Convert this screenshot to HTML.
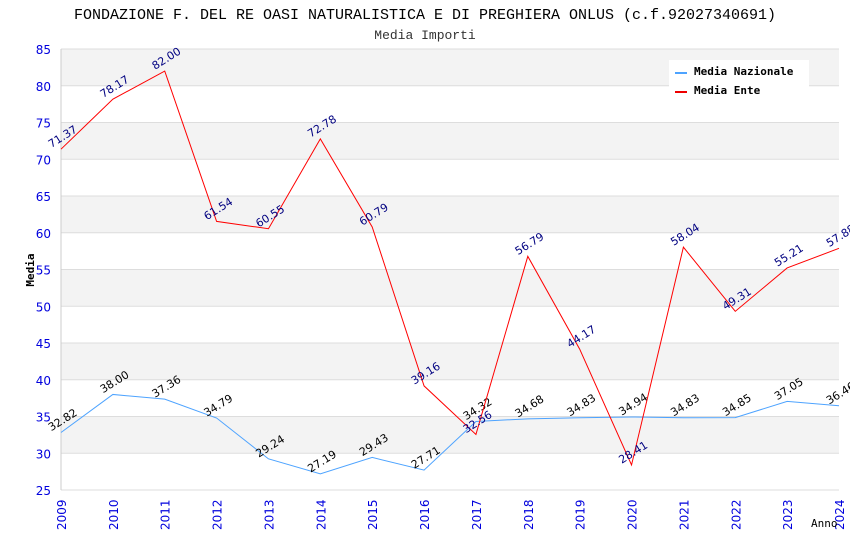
<!DOCTYPE html>
<html><head><meta charset="utf-8"><style>
body{margin:0;background:#fff}
svg{display:block;font-family:"DejaVu Sans","Liberation Sans",sans-serif}
</style></head><body>
<svg id="c" width="850" height="550">
<text x="425" y="19" text-anchor="middle" font-family="Liberation Mono,DejaVu Sans Mono,monospace" font-size="15" fill="#000">FONDAZIONE F. DEL RE OASI NATURALISTICA E DI PREGHIERA ONLUS (c.f.92027340691)</text>
<text x="425" y="39" text-anchor="middle" font-family="Liberation Mono,DejaVu Sans Mono,monospace" font-size="13" fill="#333">Media Importi</text>
<g id="grid"></g>
<g id="series"></g>
<g>
<rect x="669" y="60" width="140" height="42" fill="#fff"/>
<line x1="675" y1="73" x2="687" y2="73" stroke="#4da3ff" stroke-width="2"/>
<text x="694" y="75" font-family="DejaVu Sans Mono,Liberation Mono,monospace" font-size="11" font-weight="bold">Media Nazionale</text>
<line x1="675" y1="92" x2="687" y2="92" stroke="#e00" stroke-width="2"/>
<text x="694" y="94" font-family="DejaVu Sans Mono,Liberation Mono,monospace" font-size="11" font-weight="bold">Media Ente</text>
</g>
<text transform="translate(34,270) rotate(-90)" text-anchor="middle" font-family="DejaVu Sans Mono,Liberation Mono,monospace" font-size="11" font-weight="bold">Media</text>
<text x="811" y="527" font-family="DejaVu Sans Mono,Liberation Mono,monospace" font-size="11">Anno</text>
</svg>
<script>
const years=[2009,2010,2011,2012,2013,2014,2015,2016,2017,2018,2019,2020,2021,2022,2023,2024];
const nazionale=[32.82,38.00,37.36,34.79,29.24,27.19,29.43,27.71,34.32,34.68,34.83,34.94,34.83,34.85,37.05,36.46];
const ente=[71.37,78.17,82.00,61.54,60.55,72.78,60.79,39.16,32.56,56.79,44.17,28.41,58.04,49.31,55.21,57.88];
const yTicks=[25,30,35,40,45,50,55,60,65,70,75,80,85];
const NS='http://www.w3.org/2000/svg';
const X0=61,X1=839,Y0=490,Y1=49,ymin=25,ymax=85;
const xs=i=>X0+(X1-X0)*i/(years.length-1);
const ys=v=>Y0-(v-ymin)/(ymax-ymin)*(Y0-Y1);
function mk(t,a,p){const e=document.createElementNS(NS,t);for(const k in a)e.setAttribute(k,a[k]);p.appendChild(e);return e;}
const g=document.getElementById('grid'),s=document.getElementById('series');
for(let i=0;i<yTicks.length-1;i++){
  if(i%2===1){const r=mk('rect',{x:X0,y:ys(yTicks[i+1]),width:X1-X0,height:ys(yTicks[i])-ys(yTicks[i+1]),fill:'#f3f3f3'},g);
  
  }
}
yTicks.forEach(v=>{
  const l=mk('line',{x1:X0,x2:X1,y1:ys(v),y2:ys(v),stroke:'#ddd'},g);
  
  
  const t=mk('text',{x:X0-10,y:ys(v)+5,'text-anchor':'end','font-size':12,fill:'#0000dd'},g);
  t.textContent=v;
  
  
});
mk('line',{x1:X0,x2:X0,y1:Y1,y2:Y0,stroke:'#ccc'},g);
years.forEach((y,i)=>{
  const t=mk('text',{transform:`translate(${xs(i)+5},${Y0+40}) rotate(-90)`,'font-size':12,fill:'#0000dd'},g);
  t.textContent=y;
  
  
});
function line(data,color,lblColor,name){
  const p=mk('polyline',{points:data.map((v,i)=>xs(i)+','+ys(v)).join(' '),fill:'none',stroke:color,'stroke-width':1},s);
  
  
  data.forEach((v,i)=>{
    const t=mk('text',{transform:`translate(${xs(i)+2},${ys(v)-12}) rotate(-32)`,'text-anchor':'middle','dominant-baseline':'middle','font-size':11,fill:lblColor},s);
    t.textContent=v.toFixed(2);
    
    
  });
}
line(nazionale,'#4da3ff','#000','line-nazionale');
line(ente,'#ff0000','#000080','line-ente');
</script>
</body></html>
